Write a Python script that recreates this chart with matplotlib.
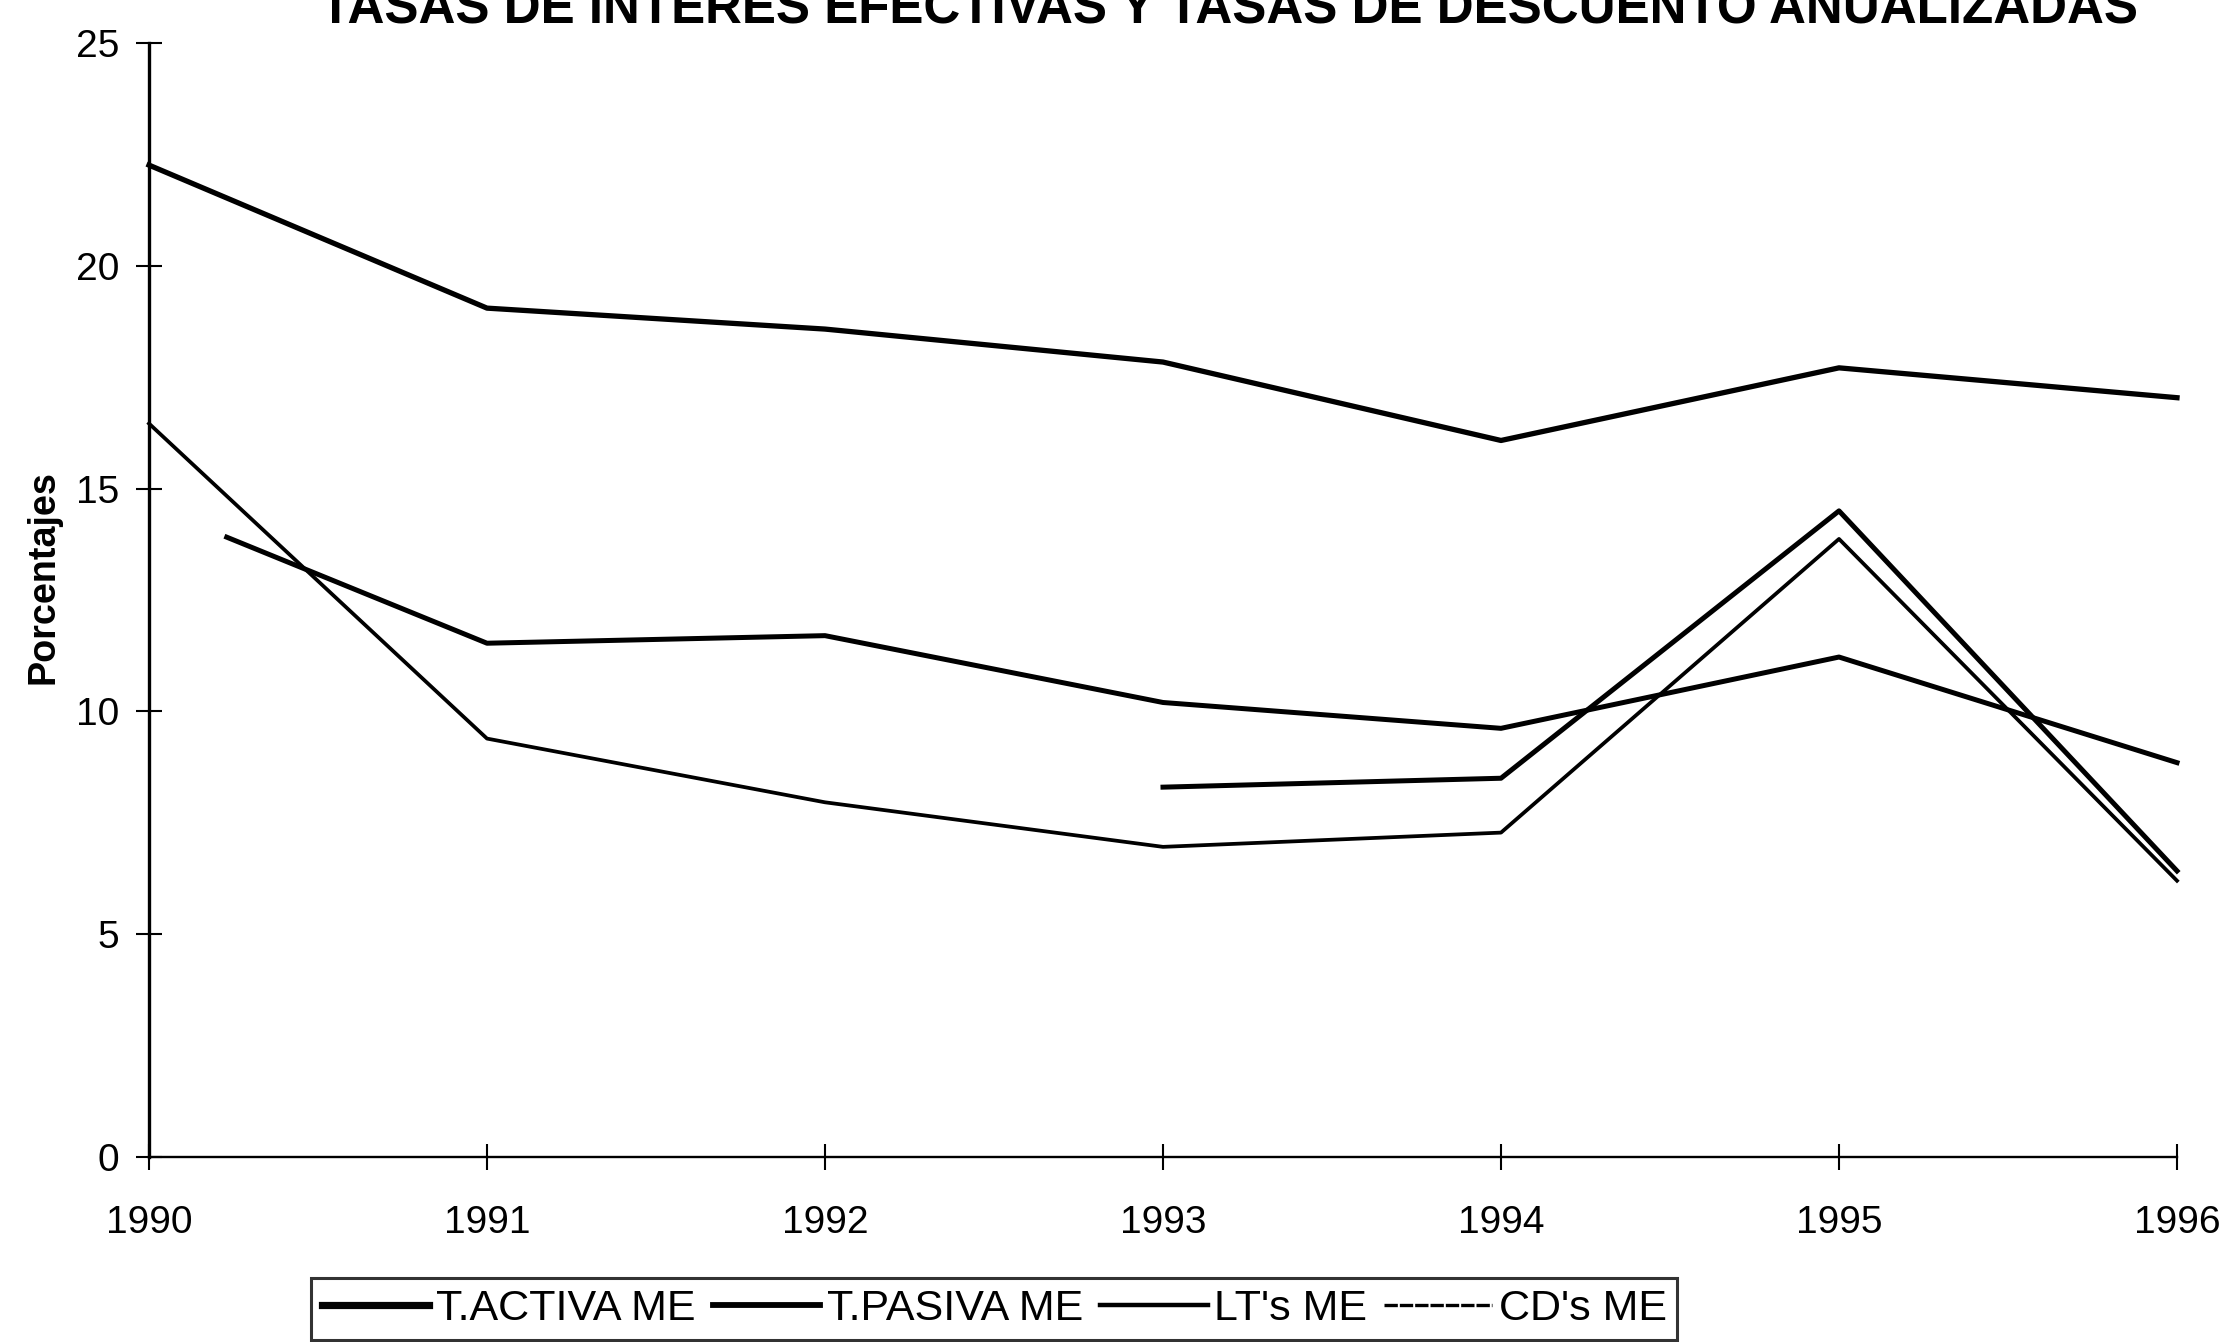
import matplotlib
matplotlib.use("Agg")
import matplotlib.pyplot as plt
from matplotlib.lines import Line2D

plt.rcParams['font.family'] = ['Liberation Sans', 'DejaVu Sans']

# ---------------- data ----------------
years = [1990, 1991, 1992, 1993, 1994, 1995, 1996]
activa = [22.26, 19.05, 18.58, 17.84, 16.08, 17.71, 17.04]
pasiva_years = [1990.23, 1991, 1992, 1993, 1994, 1995, 1996]
pasiva = [13.91, 11.53, 11.70, 10.20, 9.62, 11.22, 8.85]
lts_years = [1993, 1994, 1995, 1996]
lts = [8.30, 8.50, 14.50, 6.42]
cds = [16.46, 9.39, 7.96, 6.96, 7.28, 13.87, 6.20]

labels = ["T.ACTIVA ME", "T.PASIVA ME", "LT's ME", "CD's ME"]
title = "TASAS DE INTERES EFECTIVAS Y TASAS DE DESCUENTO ANUALIZADAS"
ylabel = "Porcentajes"
yticks = [0, 5, 10, 15, 20, 25]

W, H = 2235, 1342
fig = plt.figure(figsize=(W / 100, H / 100), dpi=100)
ax = fig.add_axes([149 / W, 1 - 1157 / H, (2177 - 149) / W, (1157 - 43) / H])

ax.plot(years, activa, color='black', lw=3.8, label=labels[0], clip_on=False)
ax.plot(pasiva_years, pasiva, color='black', lw=3.6, label=labels[1], clip_on=False)
ax.plot(lts_years, lts, color='black', lw=3.6, label=labels[2], clip_on=False)
ax.plot(years, cds, color='black', lw=2.7, label=labels[3], clip_on=False)

ax.set_xlim(1990, 1996)
ax.set_ylim(0, 25)
ax.set_xticks(years)
ax.set_xticklabels([str(y) for y in years])
ax.set_yticks(yticks)
ax.set_yticklabels([str(v) for v in yticks])
for s in ['top', 'right']:
    ax.spines[s].set_visible(False)
ax.spines['left'].set_linewidth(2.4)
ax.spines['bottom'].set_linewidth(1.7)
for s in ['left', 'bottom']:
    ax.spines[s].set_color('black')
ax.tick_params(axis='both', direction='inout', length=19, width=1.5,
               labelsize=28, colors='black')
ax.tick_params(axis='x', pad=25)
ax.tick_params(axis='y', pad=12)

# title (cropped at the top, as in the reference)
t_title = fig.text(1229 / W, 1 - 24 / H, title, ha='center', va='baseline',
                   fontsize=40, fontweight='bold', color='black')
t_ylab = fig.text(44 / W, 1 - 577 / H, ylabel, ha='center', va='center',
                  rotation=90, fontsize=28, fontweight='bold', color='black')

handles = [Line2D([], [], color='black', lw=5.2),
           Line2D([], [], color='black', lw=4.2),
           Line2D([], [], color='black', lw=3.2),
           Line2D([], [], color='black', lw=2.4, ls=(0, (4, 0.6)))]
leg = fig.legend(handles, labels, loc='lower left',
                 bbox_to_anchor=(311 / W, 2 / H), bbox_transform=fig.transFigure,
                 ncol=4, fontsize=31, frameon=True, fancybox=False,
                 edgecolor='black', handlelength=2.5, handletextpad=0.15,
                 columnspacing=0.4, borderpad=0.25, borderaxespad=0)
leg.get_frame().set_linewidth(2.2)

# fit text widths to the reference
fig.canvas.draw()
r = fig.canvas.get_renderer()
w = t_title.get_window_extent(r).width
t_title.set_fontsize(t_title.get_fontsize() * 1817 / w)
h = t_ylab.get_window_extent(r).height
t_ylab.set_fontsize(t_ylab.get_fontsize() * 214 / h)

fig.savefig("out.png", dpi=100, facecolor='white')
